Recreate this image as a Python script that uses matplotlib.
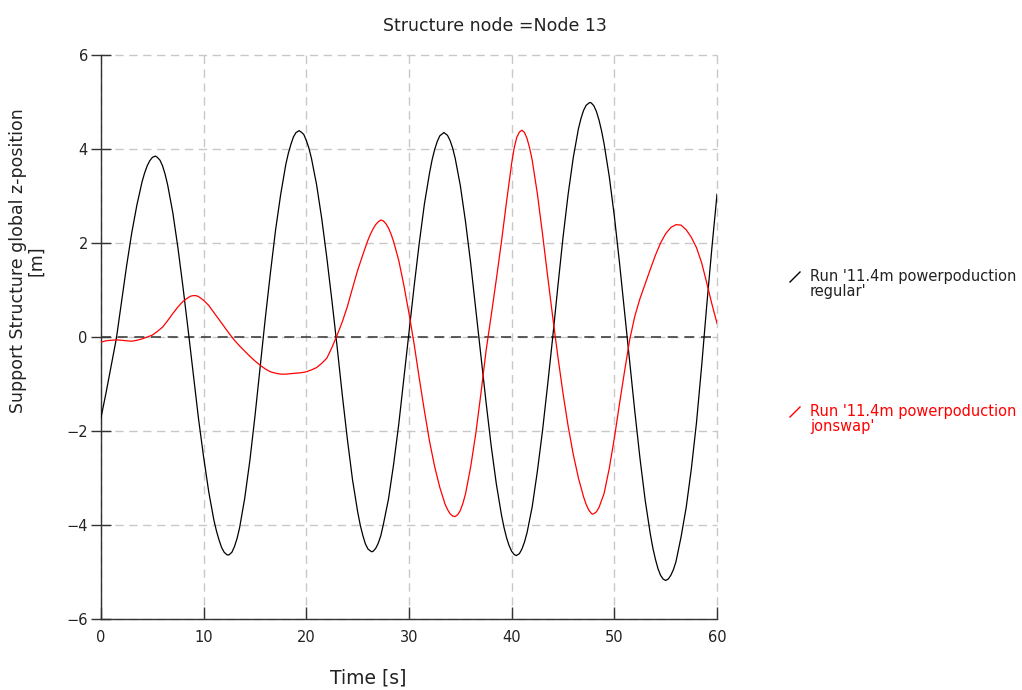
import matplotlib
matplotlib.use('Agg')
import matplotlib.pyplot as plt
from matplotlib.lines import Line2D

plt.rcParams['font.family'] = ['DejaVu Sans']

# Run '11.4m powerpoduction regular'  (time [s], z-position [m])
t_regular = [
    0.0, 0.5, 1.0, 1.5, 2.0, 2.5, 3.0, 3.5, 4.0, 4.25, 4.5, 4.75, 5.0, 5.3, 5.5, 5.75, 6.0, 6.25, 6.5,
    7.0, 7.5, 8.0, 8.5, 9.0, 9.5, 10.0, 10.5, 11.0, 11.25, 11.5, 11.75, 12.0, 12.25, 12.4, 12.5, 12.75,
    13.0, 13.25, 13.5, 14.0, 14.5, 15.0, 15.5, 16.0, 16.5, 17.0, 17.5, 18.0, 18.25, 18.5, 18.75, 19.0,
    19.3, 19.5, 19.75, 20.0, 20.25, 20.5, 21.0, 21.5, 22.0, 22.5, 23.0, 23.5, 24.0, 24.5, 25.0, 25.25,
    25.5, 25.75, 26.0, 26.36, 26.5, 26.75, 27.0, 27.25, 27.5, 28.0, 28.5, 29.0, 29.5, 30.0, 30.5, 31.0,
    31.5, 32.0, 32.25, 32.5, 32.75, 33.0, 33.4, 33.75, 34.0, 34.25, 34.5, 35.0, 35.5, 36.0, 36.5, 37.0,
    37.5, 38.0, 38.5, 39.0, 39.25, 39.5, 39.75, 40.0, 40.25, 40.45, 40.75, 41.0, 41.25, 41.5, 42.0, 42.5,
    43.0, 43.5, 44.0, 44.5, 45.0, 45.5, 46.0, 46.5, 46.75, 47.0, 47.25, 47.6, 47.75, 48.0, 48.25, 48.5,
    48.75, 49.0, 49.5, 50.0, 50.5, 51.0, 51.5, 52.0, 52.5, 53.0, 53.5, 53.75, 54.0, 54.25, 54.5, 54.75,
    55.0, 55.25, 55.5, 55.75, 56.0, 56.25, 56.5, 57.0, 57.5, 58.0, 58.5, 59.0, 59.5, 60.0,
]
z_regular = [
    -1.72, -1.18, -0.60, -0.03, 0.75, 1.52, 2.22, 2.81, 3.30, 3.49, 3.64, 3.75, 3.82, 3.85, 3.82, 3.76, 3.64, 3.46, 3.23,
    2.64, 1.89, 1.04, 0.13, -0.81, -1.74, -2.56, -3.30, -3.90, -4.13, -4.32, -4.48, -4.58, -4.63, -4.64, -4.63, -4.58,
    -4.46, -4.29, -4.06, -3.43, -2.63, -1.68, -0.64, 0.39, 1.36, 2.27, 3.03, 3.67, 3.91, 4.10, 4.26, 4.35,
    4.39, 4.36, 4.31, 4.18, 4.02, 3.80, 3.24, 2.52, 1.68, 0.76, -0.21, -1.23, -2.18, -3.04, -3.72, -4.00,
    -4.22, -4.40, -4.51, -4.57, -4.56, -4.50, -4.39, -4.23, -3.99, -3.45, -2.71, -1.86, -0.89, 0.10, 1.08, 2.00,
    2.83, 3.49, 3.77, 3.99, 4.16, 4.28, 4.35, 4.29, 4.18, 4.02, 3.80, 3.22, 2.46, 1.58, 0.60, -0.40,
    -1.38, -2.31, -3.12, -3.78, -4.05, -4.27, -4.44, -4.56, -4.63, -4.65, -4.61, -4.51, -4.36, -4.16, -3.61, -2.86,
    -2.00, -1.02, 0.00, 1.08, 2.12, 3.04, 3.82, 4.43, 4.65, 4.82, 4.93, 4.99, 4.98, 4.92, 4.80, 4.62,
    4.39, 4.11, 3.42, 2.57, 1.58, 0.53, -0.54, -1.60, -2.59, -3.47, -4.19, -4.49, -4.73, -4.93, -5.07, -5.15,
    -5.18, -5.15, -5.07, -4.95, -4.78, -4.52, -4.25, -3.62, -2.80, -1.82, -0.62, 0.68, 1.90, 3.04,
]

# Run '11.4m powerpoduction jonswap'
t_jonswap = [
    0.0, 0.5, 1.0, 1.5, 2.0, 2.5, 3.0, 3.5, 4.0, 4.5, 5.0, 5.5, 6.0, 6.5, 7.0, 7.5, 8.0, 8.5, 8.75, 9.0,
    9.25, 9.5, 10.0, 10.5, 11.0, 11.5, 12.0, 12.5, 13.0, 13.5, 14.0, 14.5, 15.0, 15.5, 16.0, 16.5, 17.0,
    17.5, 18.0, 18.5, 19.0, 19.5, 20.0, 20.5, 21.0, 21.5, 22.0, 22.5, 23.0, 23.5, 24.0, 24.5, 25.0, 25.5,
    26.0, 26.25, 26.5, 26.75, 27.0, 27.26, 27.5, 27.75, 28.0, 28.25, 28.5, 29.0, 29.5, 30.0, 30.5, 31.0,
    31.5, 32.0, 32.5, 33.0, 33.5, 33.75, 34.0, 34.25, 34.5, 34.75, 35.0, 35.25, 35.5, 36.0, 36.5, 37.0,
    37.5, 38.0, 38.5, 39.0, 39.5, 40.0, 40.25, 40.5, 40.75, 41.0, 41.25, 41.5, 41.75, 42.0, 42.5, 43.0,
    43.5, 44.0, 44.5, 45.0, 45.5, 46.0, 46.5, 47.0, 47.25, 47.5, 47.75, 47.85, 48.0, 48.25, 48.5, 49.0,
    49.5, 50.0, 50.5, 51.0, 51.5, 52.0, 52.5, 53.0, 53.5, 54.0, 54.5, 55.0, 55.5, 56.0, 56.5, 57.0, 57.5,
    58.0, 58.5, 59.0, 59.5, 60.0,
]
z_jonswap = [
    -0.11, -0.08, -0.07, -0.06, -0.07, -0.08, -0.09, -0.07, -0.04, 0.00, 0.04, 0.12, 0.21, 0.35, 0.50, 0.64, 0.76, 0.84, 0.87, 0.88,
    0.88, 0.86, 0.78, 0.67, 0.52, 0.37, 0.22, 0.07, -0.07, -0.19, -0.30, -0.41, -0.51, -0.60, -0.68, -0.74, -0.77,
    -0.79, -0.79, -0.78, -0.77, -0.76, -0.74, -0.70, -0.65, -0.56, -0.45, -0.22, 0.04, 0.32, 0.65, 1.04, 1.42, 1.75,
    2.06, 2.19, 2.30, 2.39, 2.45, 2.49, 2.47, 2.41, 2.32, 2.19, 2.03, 1.63, 1.10, 0.50, -0.15, -0.88,
    -1.57, -2.22, -2.76, -3.20, -3.55, -3.67, -3.76, -3.81, -3.82, -3.78, -3.69, -3.54, -3.34, -2.77, -2.06, -1.21,
    -0.30, 0.45, 1.22, 2.02, 2.88, 3.70, 4.03, 4.25, 4.36, 4.40, 4.35, 4.22, 4.02, 3.76, 3.05, 2.20,
    1.30, 0.42, -0.42, -1.20, -1.90, -2.50, -3.00, -3.40, -3.56, -3.68, -3.75, -3.77, -3.76, -3.72, -3.63, -3.33,
    -2.80, -2.15, -1.42, -0.72, -0.05, 0.45, 0.82, 1.13, 1.44, 1.74, 2.00, 2.20, 2.33, 2.39, 2.38, 2.28, 2.12,
    1.90, 1.58, 1.15, 0.70, 0.29,
]

labels = ["Run '11.4m powerpoduction\nregular'", "Run '11.4m powerpoduction\njonswap'"]
colors = ['black', 'red']

fig = plt.figure(figsize=(10.22, 6.90), dpi=100)
ax = fig.add_axes([0.0988, 0.1029, 0.6028, 0.8174])

ax.grid(True, color='#c8c8c8', linestyle=(0, (6, 4)), linewidth=1.0)
ax.axhline(0, color='#404040', linestyle=(0, (6, 4)), linewidth=1.2, zorder=2)
ax.plot(t_regular, z_regular, color=colors[0], linewidth=0.9, zorder=3)
ax.plot(t_jonswap, z_jonswap, color=colors[1], linewidth=0.9, zorder=3)

ax.set_xlim(0, 60)
ax.set_ylim(-6, 6)
ax.set_xticks(range(0, 61, 10))
ax.set_yticks(range(-6, 7, 2))
for gl in ax.get_xgridlines() + ax.get_ygridlines():
    gl.set_clip_on(False)

for s in ['top', 'right']:
    ax.spines[s].set_visible(False)
for s in ['left', 'bottom']:
    ax.spines[s].set_color('#333333')
    ax.spines[s].set_linewidth(1.0)

ax.tick_params(axis='y', direction='inout', length=15, width=1, color='#333333',
               labelsize=10.5, labelcolor='#222222', pad=2)
ax.tick_params(axis='x', direction='in', length=8.5, width=1, color='#333333',
               labelsize=10.5, labelcolor='#222222', pad=8)

fig.suptitle('Structure node =Node 13', x=0.484, y=0.975, fontsize=12.5, color='#222222')
fig.text(368 / 1022, 1 - 678 / 690, 'Time [s]', ha='center', va='center',
         fontsize=13.5, color='#222222')
fig.text(27 / 1022, 1 - 261 / 690, 'Support Structure global z-position\n[m]',
         rotation=90, ha='center', va='center', multialignment='center',
         fontsize=12.5, color='#222222', linespacing=1.0)

# legend-like annotations outside the axes
for lab, col, yc in zip(labels, colors, [284, 419]):
    fig.add_artist(Line2D([790 / 1022, 800 / 1022],
                          [1 - (yc - 2) / 690, 1 - (yc - 12) / 690],
                          color=col, linewidth=1.0, transform=fig.transFigure))
    fig.text(810 / 1022, 1 - yc / 690, lab, ha='left', va='center',
             fontsize=10.5, color=col if col == 'red' else '#222222', linespacing=0.95)

fig.savefig('out.png', dpi=100)
